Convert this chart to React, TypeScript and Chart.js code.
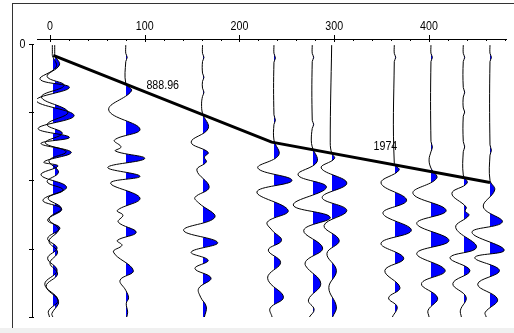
import React, { useEffect, useRef } from 'react';
import { Chart, registerables } from 'chart.js';

Chart.register(...registerables);

// ---- DATA ----
// trace baselines (offset, x units)
const traceOffsets = [2.5, 5, 80, 161, 236.4, 276.8, 297.3, 363.4, 402.1, 436.2, 464.4];

// each trace: [time, amplitude]
const traceA: [number, number][] = [
  [2, 0], [14, 0], [17, 0], [34, 4], [52, -13], [64, 18], [83, -17], [105, 23], [124, -15], [137, 18],
  [146, -12], [159, 20], [173, -9], [179, 6], [192, -12], [210, 15], [229, -10], [242, 10], [258, -5],
  [270, 8], [285, -5], [299, 5], [314, -5], [332, 5], [352, -8], [375, 6], [391, -4], [400, -3],
];
const traceB: [number, number][] = [
  [2, 0], [14, 0], [17, 0], [31, 5], [48, -8], [61, 10], [78, -14], [100, 14], [118, -8], [131, 8],
  [145, -10], [158, 12], [171, -6], [188, 4], [202, -8], [214, 9], [226, -7], [241, 7], [256, -6],
  [272, 4], [289, -6], [305, 3], [321, -5], [337, 3], [355, -9], [377, 4], [395, -3], [400, -2],
];
const traceC: [number, number][] = [
  [2, 0], [14, 0], [20, 1.5], [26, 0], [58, 0], [69, 6], [97, -18], [125, 15], [141, -12], [151, -5],
  [157, -11], [168, 20], [181, -19], [194, 15], [204, -16], [226, 15], [244, -9], [251, -3], [261, -8],
  [276, 11], [288, -9], [295, -4], [305, -13], [332, 8], [346, -6], [361, 0], [372, 3], [380, 0.5],
  [393, 2], [400, 1],
];
const traceD: [number, number][] = [
  [2, 0], [14, 0], [20, 1.5], [26, 0], [43, 0], [49, 1.5], [55, 0], [65, 0], [71, 1.5], [77, 0],
  [88, -1], [102, 0], [124, 6], [144, -12], [159, 6], [166, 2], [173, 4], [185, -6], [210, 7],
  [225, -8], [233, -4], [254, 13], [273, -20], [291, 16], [305, -12], [317, 6], [329, -8], [343, 9],
  [358, -4], [371, -2], [385, 4], [400, 2],
];
const traceE: [number, number][] = [
  [2, 0], [14, 0], [21, 1.5], [27, 0], [104, 0], [112, 1.5], [118, 0], [141, 0], [163, 5], [182, -17],
  [200, 19], [217, -18], [244, 15], [261, -7], [273, -2], [288, 8], [302, -6], [320, 7], [339, -6],
  [349, -5], [371, 10], [387, -4], [400, -2],
];
const traceF: [number, number][] = [
  [2, 0], [14, 0], [20, 1.5], [26, 0], [112, 0], [118, 1.5], [124, 0], [141, -1], [151, 0], [173, 5],
  [192, -15], [210, 15], [236, -20], [254, 19], [273, -9], [299, 11], [317, -6], [325, -7], [351, 9],
  [375, -4], [389, 2], [400, -3],
];
const traceG: [number, number][] = [
  [2, 0], [145, -1.5], [160, 0], [168, 3], [182, -11], [204, 16], [225, -10], [244, 16], [266, -8],
  [288, 8], [307, -5], [332, 5], [357, -3], [385, 5], [400, 1],
];
const traceH: [number, number][] = [
  [2, 0], [14, 0], [20, 1.5], [26, 0], [175, 0], [185, 5], [204, -14], [229, 13], [248, -12], [273, 18],
  [292, -14], [314, 10], [332, -10], [357, 6], [372, -6], [385, 3], [400, -2],
];
const traceI: [number, number][] = [
  [2, 0], [14, 0], [20, 1.5], [26, 0], [143, 0], [151, 1.5], [158, 0], [170, -2], [182, 0], [197, 6],
  [219, -19], [244, 16], [263, -15], [288, 19], [307, -15], [332, 15], [351, -10], [372, 7], [390, -3],
  [400, -2],
];
const traceJ: [number, number][] = [
  [2, 0], [14, 0], [20, 1.5], [26, 0], [64, 0], [71, 1.5], [78, 0], [94, 0], [100, 1.5], [106, 0],
  [143, 0], [151, 1.5], [158, 0], [192, 0], [204, 4], [219, -12], [239, 3], [245, 2], [251, 6],
  [269, -8], [298, 14], [313, -14], [332, 7], [351, -11], [371, 3], [390, -3], [400, -2],
];
const traceK: [number, number][] = [
  [2, 0], [14, 0], [20, 1.5], [26, 0], [148, 0], [156, 1.5], [163, 0], [200, 0], [214, 5], [239, -7],
  [261, 13], [276, -19], [302, 15], [313, -16], [332, 10], [352, -13], [374, 8], [393, -5], [400, -4],
];
const traces = [traceA, traceB, traceC, traceD, traceE, traceF, traceG, traceH, traceI, traceJ, traceK];

// first-break picks line
const pickOffsets = [3.5, 234, 464.4];
const pickTimes = [17, 144, 203];

// velocity labels
const velocityLabels = ['888.96', '1974'];
const velocityLabelX = [119, 354];
const velocityLabelT = [61, 150];

// axes
const X_MIN = -13.7;
const X_MAX = 481.3;
const Y_MIN = -7;
const Y_MAX = 400;
const xTickValues = [0, 20, 40, 60, 80, 100, 120, 140, 160, 180, 200, 220, 240, 260, 280, 300, 320, 340, 360, 380, 400, 420, 440, 460, 480];
const xLabelValues = [0, 100, 200, 300, 400];
const xTickLabels = ['0', '100', '200', '300', '400'];
const yTickValues = [0, 100, 200, 300, 400];
const yTickLabels = ['0', '', '', '', ''];

// ---- STYLE ----
const FONT = "13px 'Liberation Sans', Arial, sans-serif";
const TEXT_SQUEEZE = 0.82; // narrow face look
const FILL_COLOR = '#0000ff';
const TRACE_COLOR = '#000000';

function narrowText(ctx: CanvasRenderingContext2D, text: string, x: number, y: number, align: CanvasTextAlign) {
  ctx.save();
  ctx.translate(x, y);
  ctx.scale(TEXT_SQUEEZE, 1);
  ctx.font = FONT;
  ctx.fillStyle = '#000';
  ctx.textAlign = align;
  ctx.textBaseline = 'middle';
  ctx.fillText(text, 0, 0);
  ctx.restore();
}

const wiggleFill = {
  id: 'wiggleFill',
  beforeDatasetsDraw(chart: any) {
    const { ctx, chartArea: area } = chart;
    const xs = chart.scales.x;
    chart.data.datasets.forEach((ds: any, i: number) => {
      if (ds.baseline === undefined) return;
      const meta = chart.getDatasetMeta(i);
      const line = meta.dataset;
      if (!line || !line.points || !line.points.length) return;
      line.updateControlPoints(area, 'y');
      const bx = xs.getPixelForValue(ds.baseline);
      const cx = Math.ceil(bx);
      const pts = line.points;
      ctx.save();
      ctx.beginPath();
      ctx.rect(cx, area.top, area.right - cx, area.bottom - area.top);
      ctx.clip();
      ctx.beginPath();
      line.path(ctx);
      ctx.lineTo(bx, pts[pts.length - 1].y);
      ctx.lineTo(bx, pts[0].y);
      ctx.closePath();
      ctx.fillStyle = FILL_COLOR;
      ctx.fill();
      ctx.restore();
    });
  },
};

const axisMarks = {
  id: 'axisMarks',
  afterDraw(chart: any) {
    const { ctx, chartArea: area } = chart;
    const xs = chart.scales.x;
    const ys = chart.scales.y;
    ctx.save();
    ctx.strokeStyle = '#000';
    ctx.lineWidth = 1;
    // y axis line and ticks (drawn slightly left of the plot area)
    const ax = Math.round(area.left) - 4.5;
    const yT: number[] = ys.ticks.map((t: any) => t.value);
    const pys = yT.map((v) => Math.round(ys.getPixelForValue(v)) + 0.5);
    ctx.beginPath();
    ctx.moveTo(ax, Math.min(...pys));
    ctx.lineTo(ax, Math.max(...pys));
    pys.forEach((py) => {
      ctx.moveTo(ax - 3.5, py);
      ctx.lineTo(ax + 1.5, py);
    });
    ctx.stroke();
    // x axis ticks
    ctx.beginPath();
    const top = Math.round(area.top);
    xs.ticks.forEach((t: any) => {
      const px = Math.round(xs.getPixelForValue(t.value)) + 0.5;
      if (xLabelValues.includes(t.value)) {
        ctx.moveTo(px, top - 4);
        ctx.lineTo(px, top + 3);
      } else {
        ctx.moveTo(px, top);
        ctx.lineTo(px, top + 2);
      }
    });
    ctx.stroke();
    // tick labels
    xLabelValues.forEach((v, i) => {
      narrowText(ctx, xTickLabels[i], xs.getPixelForValue(v), area.top - 12.5, 'center');
    });
    yTickValues.forEach((v, i) => {
      if (yTickLabels[i]) narrowText(ctx, yTickLabels[i], area.left - 11.5, ys.getPixelForValue(v) + 0.5, 'right');
    });
    // velocity labels
    velocityLabels.forEach((txt, i) => {
      narrowText(ctx, txt, xs.getPixelForValue(velocityLabelX[i]), ys.getPixelForValue(velocityLabelT[i]), 'center');
    });
    ctx.restore();
  },
};

export default function App() {
  const ref = useRef<HTMLCanvasElement | null>(null);

  useEffect(() => {
    document.body.style.margin = '0';
    const canvas = ref.current;
    if (!canvas) return;

    const traceDatasets = traces.map((pts, i) => ({
      label: `trace${i}`,
      data: pts.map(([t, a]) => ({ x: traceOffsets[i] + a, y: t })),
      baseline: traceOffsets[i],
      borderColor: TRACE_COLOR,
      borderWidth: 1,
      tension: 0.4,
      pointRadius: 0,
      fill: false,
      order: 2,
    }));
    const pickDataset = {
      label: 'picks',
      data: pickOffsets.map((x, i) => ({ x, y: pickTimes[i] })),
      borderColor: '#000',
      borderWidth: 3,
      tension: 0,
      pointRadius: 0,
      fill: false,
      order: 0,
    };

    const chart = new Chart(canvas, {
      type: 'line',
      data: { datasets: [pickDataset, ...traceDatasets] as any },
      options: {
        animation: false,
        responsive: false,
        indexAxis: 'y',
        events: [],
        layout: { padding: { left: 12, top: 3, right: 8, bottom: 16 } },
        plugins: { legend: { display: false }, tooltip: { enabled: false } },
        scales: {
          x: {
            type: 'linear',
            position: 'top',
            min: X_MIN,
            max: X_MAX,
            afterBuildTicks: (s: any) => {
              s.ticks = xTickValues.map((v) => ({ value: v }));
            },
            afterFit: (s: any) => {
              s.height = 36;
            },
            grid: { display: false, drawTicks: false },
            border: { display: true, color: '#000', width: 1 },
            ticks: { autoSkip: false, display: false },
          },
          y: {
            type: 'linear',
            reverse: true,
            min: Y_MIN,
            max: Y_MAX,
            afterBuildTicks: (s: any) => {
              s.ticks = yTickValues.map((v) => ({ value: v }));
            },
            afterFit: (s: any) => {
              s.width = 25;
            },
            grid: { display: false, drawTicks: false },
            border: { display: false },
            ticks: { autoSkip: false, display: false },
          },
        },
      } as any,
      plugins: [wiggleFill, axisMarks],
    });

    return () => chart.destroy();
  }, []);

  return (
    <div style={{ position: 'relative', width: 514, height: 333, background: '#fff', overflow: 'hidden' }}>
      <div
        style={{
          position: 'absolute',
          left: 12,
          top: 3,
          right: 0,
          height: 325,
          borderLeft: '1px solid #333',
          borderTop: '1px solid #333',
          boxSizing: 'border-box',
        }}
      />
      <div style={{ position: 'absolute', left: 0, top: 328, width: 514, height: 5, background: '#f0f0f0' }} />
      <canvas
        ref={ref}
        width={514}
        height={333}
        style={{ position: 'absolute', left: 0, top: 0, width: 514, height: 333 }}
      />
    </div>
  );
}
